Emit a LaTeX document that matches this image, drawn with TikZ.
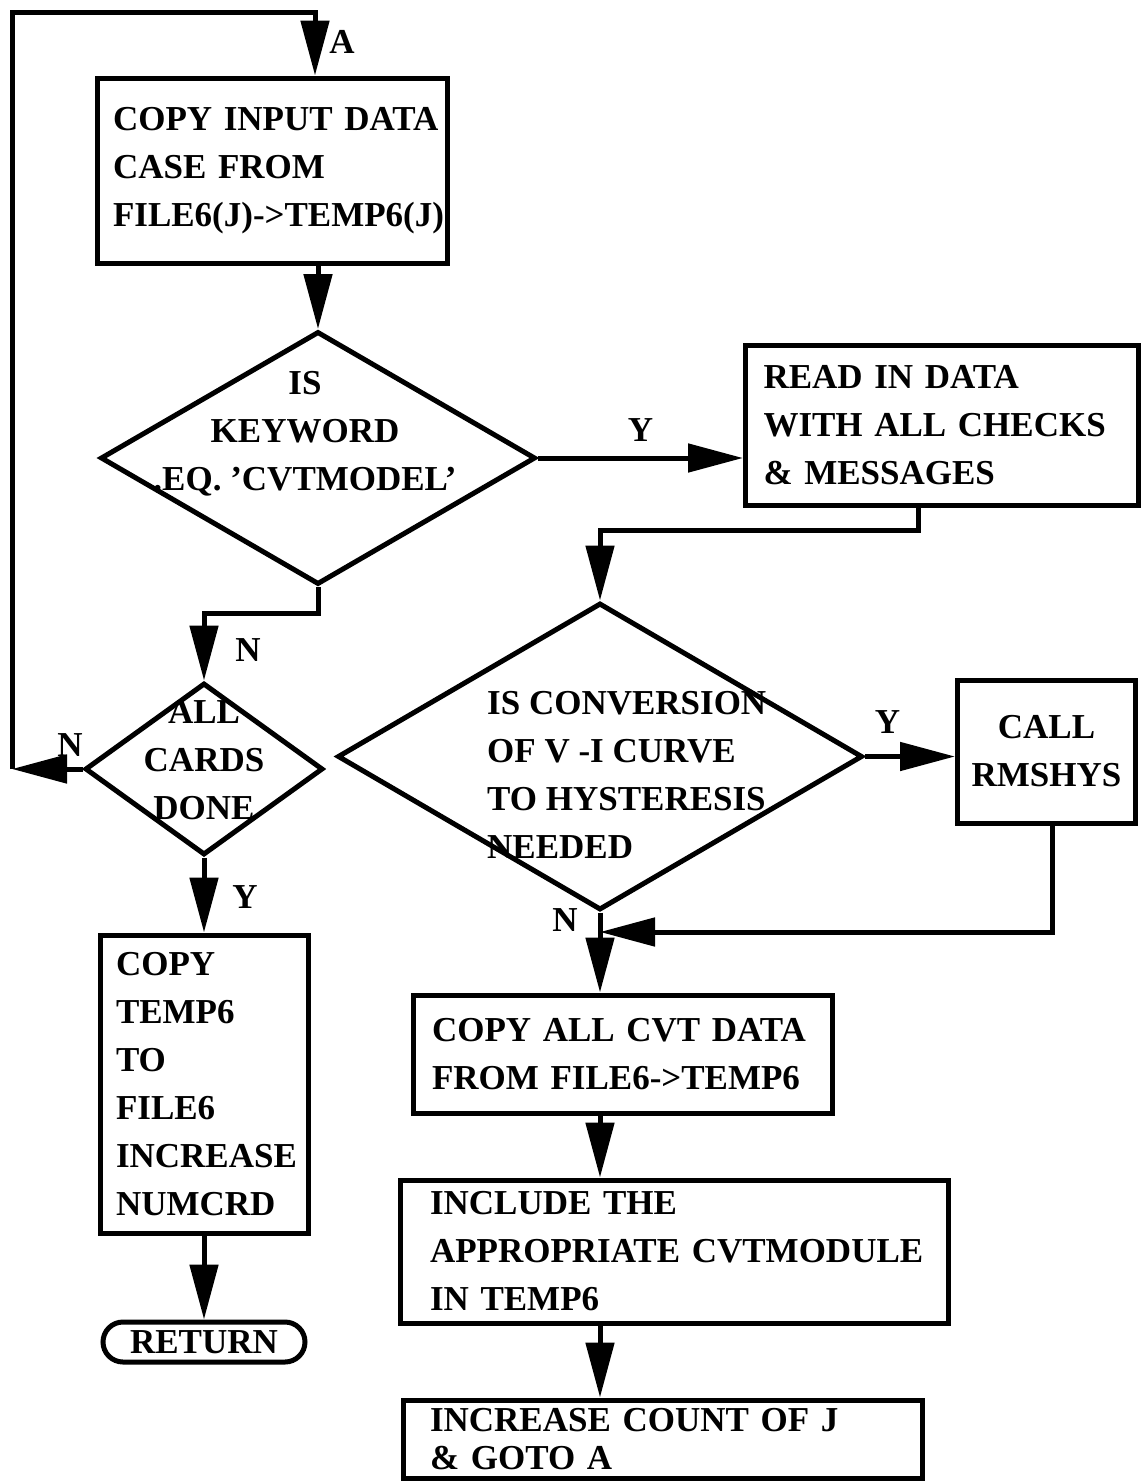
\documentclass[tikz,border=0pt]{standalone}
\usepackage{fontspec}
\setmainfont{Liberation Serif}
\usetikzlibrary{arrows.meta,positioning,shapes.geometric,shapes.misc}

\begin{document}
\begin{tikzpicture}[
		x=1pt, y=-1pt,
		node distance=80pt,
		font=\fontsize{35pt}{48pt}\selectfont\bfseries,
		block/.style={rectangle, draw, line width=5pt, inner xsep=16pt, align=left},
		decision/.style={diamond, draw, line width=5pt, inner sep=0pt},
		dtext/.style={align=center, inner sep=0pt},
		lbl/.style={inner sep=0pt},
		line/.style={draw, line width=5pt, -{Triangle[length=55pt, width=28pt]}}
	]
	\useasboundingbox (0,0) rectangle (1141,1483);

	% Left column
	\node (copyin) [block, text width=318pt, minimum height=185pt] at (272,170.5) {\mbox{COPY INPUT DATA}\\CASE FROM\\\mbox{FILE6(J)->TEMP6(J)}};

	\node (kw) [decision, minimum width=435pt, minimum height=253pt] at (318,458) {};
	\node (kwtext) [dtext] at (305,434) {IS\\KEYWORD\\.EQ. 'CVTMODEL'};

	\node (cards) [decision, minimum width=238pt, minimum height=172pt] at (204,769) {};
	\node (cardstext) [dtext] at (204,760) {ALL\\CARDS\\DONE};

	\node (copytemp) [block, text width=176pt, minimum height=298pt, below=75pt of cards] {COPY\\TEMP6\\TO\\FILE6\\\mbox{INCREASE}\\NUMCRD};

	\node (ret) [rounded rectangle, draw, line width=5pt, inner sep=0pt, minimum width=202pt, minimum height=40pt, below=84pt of copytemp] {RETURN};

	% Right column
	\node (read) [block, inner xsep=18pt, text width=357pt, minimum height=160pt, right=205pt of kw, yshift=33pt] {READ IN DATA\\\mbox{WITH ALL CHECKS}\\\& MESSAGES};

	\node (conv) [decision, minimum width=525pt, minimum height=307pt] at (600,756.5) {};
	\node (convtext) [dtext, align=left, anchor=west] at (487,775) {IS CONVERSION\\OF V -I CURVE\\TO HYSTERESIS\\NEEDED};

	\node (call) [block, inner xsep=10pt, text width=158pt, minimum height=143pt, align=center, right=90pt of conv, yshift=5pt] {CALL\\RMSHYS};

	\node (cvt) [block, inner xsep=19pt, text width=381pt, minimum height=118pt, below=80pt of conv, xshift=22.5pt] {\mbox{COPY ALL CVT DATA}\\\mbox{FROM FILE6->TEMP6}};

	\node (incl) [block, inner xsep=30pt, text width=488pt, minimum height=143pt, below=62pt of cvt, xshift=51.5pt] {INCLUDE THE\\\mbox{APPROPRIATE CVTMODULE}\\IN TEMP6};

	\node (incr) [block, inner xsep=27pt, inner ysep=2pt, text width=465pt, minimum height=78pt, below=72pt of incl, xshift=-11.5pt] {\mbox{INCREASE COUNT OF J}\\[-10pt]\& GOTO A};

	% Lines
	\coordinate (back) at (12,12);
	\coordinate (topA) at (315,12);
	\draw [line] (cards.west) -- (cards.west -| back);
	\draw [line] (cards.west -| back) |- (topA) -- (topA |- copyin.north);
	\node (lblA) [lbl] at (342,42) {A};

	\draw [line] (kw.north |- copyin.south) -- (kw.north);
	\draw [line] (kw.east) -- (kw.east -| read.west) node (ykw) [lbl, midway, above=14pt] {Y};

	\coordinate (kn) at (204,613);
	\draw [line] (kw.south) |- (kn) -- (cards.north);
	\node (nkw) [lbl] at (248,650) {N};
	\node (nback) [lbl] at (70,745) {N};

	\draw [line] (cards.south) -- (copytemp.north);
	\node (ydone) [lbl] at (245,897) {Y};
	\draw [line] (copytemp.south) -- (ret.north);

	\coordinate (rd) at (918,530);
	\draw [line] (rd |- read.south) -- (rd) -| (conv.north);
	\draw [line] (conv.east) -- (conv.east -| call.west) node (ycall) [lbl, pos=0.25, above=21pt] {Y};

	\coordinate (cl) at (1052,932);
	\draw [line] (cl |- call.south) -- (cl) -- (cl -| conv.south);
	\draw [line] (conv.south) -- (conv.south |- cvt.north);
	\node (nconv) [lbl] at (565,920) {N};
	\draw [line] (conv.south |- cvt.south) -- (conv.south |- incl.north);
	\draw [line] (conv.south |- incl.south) -- (conv.south |- incr.north);
\end{tikzpicture}
\end{document}
